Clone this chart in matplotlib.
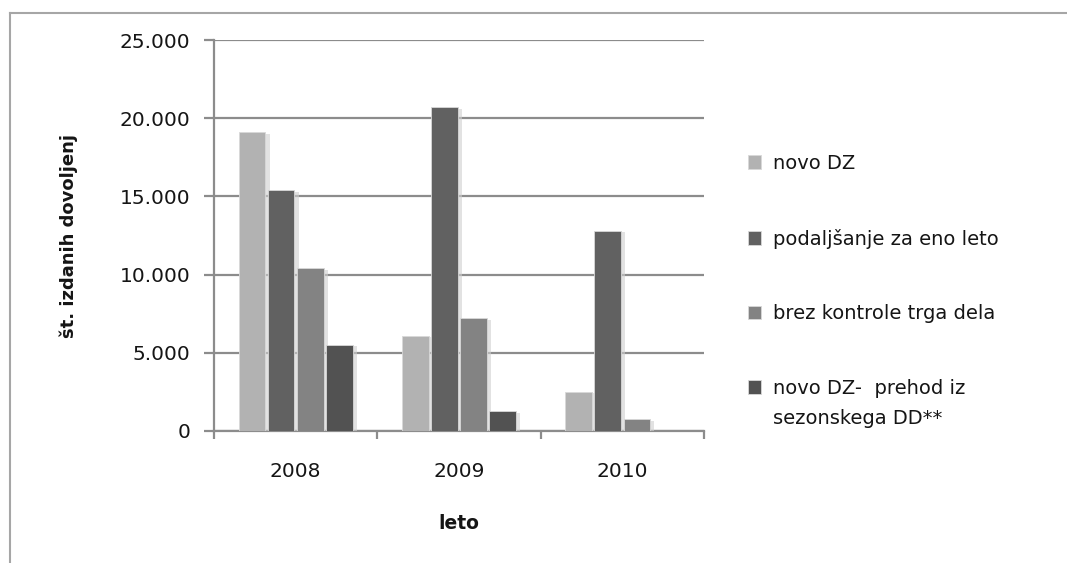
import matplotlib
matplotlib.use("Agg")
import matplotlib.pyplot as plt
import matplotlib.patheffects as pe
import matplotlib.ticker as ticker
import numpy as np

years = ["2008", "2009", "2010"]
series_names = [
    "novo DZ",
    "podaljšanje za eno leto",
    "brez kontrole trga dela",
    "novo DZ-  prehod iz\nsezonskega DD**",
]
novo_dz = [19100, 6100, 2500]
podaljsanje = [15400, 20700, 12800]
brez_kontrole = [10400, 7200, 750]
prehod_sezonsko = [5500, 1250, 0]
colors = ["#b2b2b2", "#616161", "#838383", "#525252"]

values = [novo_dz, podaljsanje, brez_kontrole, prehod_sezonsko]
txt_col = "#151515"

fig = plt.figure(figsize=(10.67, 5.63), dpi=100)
ax = fig.add_axes([214 / 1067, 1 - 431 / 563, 490 / 1067, 391 / 563])

# outer chart frame (only top and left edges are visible)
fig.add_artist(plt.Line2D([10 / 1067, 10 / 1067], [0, 1 - 13 / 563],
                          transform=fig.transFigure, color="#a6a6a6", lw=1.5))
fig.add_artist(plt.Line2D([10 / 1067, 1], [1 - 13 / 563, 1 - 13 / 563],
                          transform=fig.transFigure, color="#a6a6a6", lw=1.5))

x = np.arange(len(years))
slot = 0.178
width = 0.163
shadow = [pe.SimplePatchShadow(offset=(3, -1), shadow_rgbFace="#cfcfcf", alpha=0.6), pe.Normal()]
handles = []
for j, (vals, col) in enumerate(zip(values, colors)):
    b = ax.bar(x + (j - 1.5) * slot, vals, width, color=col,
               edgecolor="#d8d8d8", linewidth=0.6, zorder=3)
    for p in b:
        p.set_path_effects(shadow)
    handles.append(b)

ax.set_xlim(-0.5, 2.5)
ax.set_ylim(0, 25000)
ax.yaxis.set_major_locator(ticker.MultipleLocator(5000))
ax.yaxis.set_major_formatter(ticker.FuncFormatter(lambda v, p: f"{int(v):,}".replace(",", ".")))
ax.grid(axis="y", color="#8c8c8c", linewidth=1.6, zorder=0)

ax.set_xticks([-0.5, 0.5, 1.5, 2.5])
ax.set_xticklabels([])
ax.set_xticks(x, minor=True)
ax.set_xticklabels(years, minor=True)
ax.tick_params(axis="x", which="major", direction="out", length=6, width=1.6, color="#8c8c8c")
ax.tick_params(axis="x", which="minor", length=0, pad=22, labelsize=14.5, labelcolor=txt_col)
ax.tick_params(axis="y", direction="out", length=7, width=1.6, color="#8c8c8c",
               labelsize=14.5, labelcolor=txt_col, pad=10)

for s in ["top", "right"]:
    ax.spines[s].set_visible(False)
for s in ["left", "bottom"]:
    ax.spines[s].set_color("#8c8c8c")
    ax.spines[s].set_linewidth(1.6)

ax.set_xlabel("leto", fontsize=13.5, fontweight="bold", labelpad=24, color=txt_col)
ax.set_ylabel("št. izdanih dovoljenj", fontsize=13, fontweight="bold", labelpad=30, color=txt_col)

leg = fig.legend(handles, series_names, loc="upper left", bbox_to_anchor=(740 / 1067, 1 - 146 / 563),
                 frameon=False, fontsize=14, labelspacing=2.87, handlelength=0.7, handleheight=0.7,
                 handletextpad=0.6, borderaxespad=0, labelcolor=txt_col)
for h in leg.legend_handles:
    h.set_path_effects([])
leg.get_texts()[-1].set_linespacing(1.75)
# keep the marker of the two-line entry level with its first line
last = leg.legend_handles[-1]
last.set_y(last.get_y() + 12.5)

fig.savefig("out.png", dpi=100)
